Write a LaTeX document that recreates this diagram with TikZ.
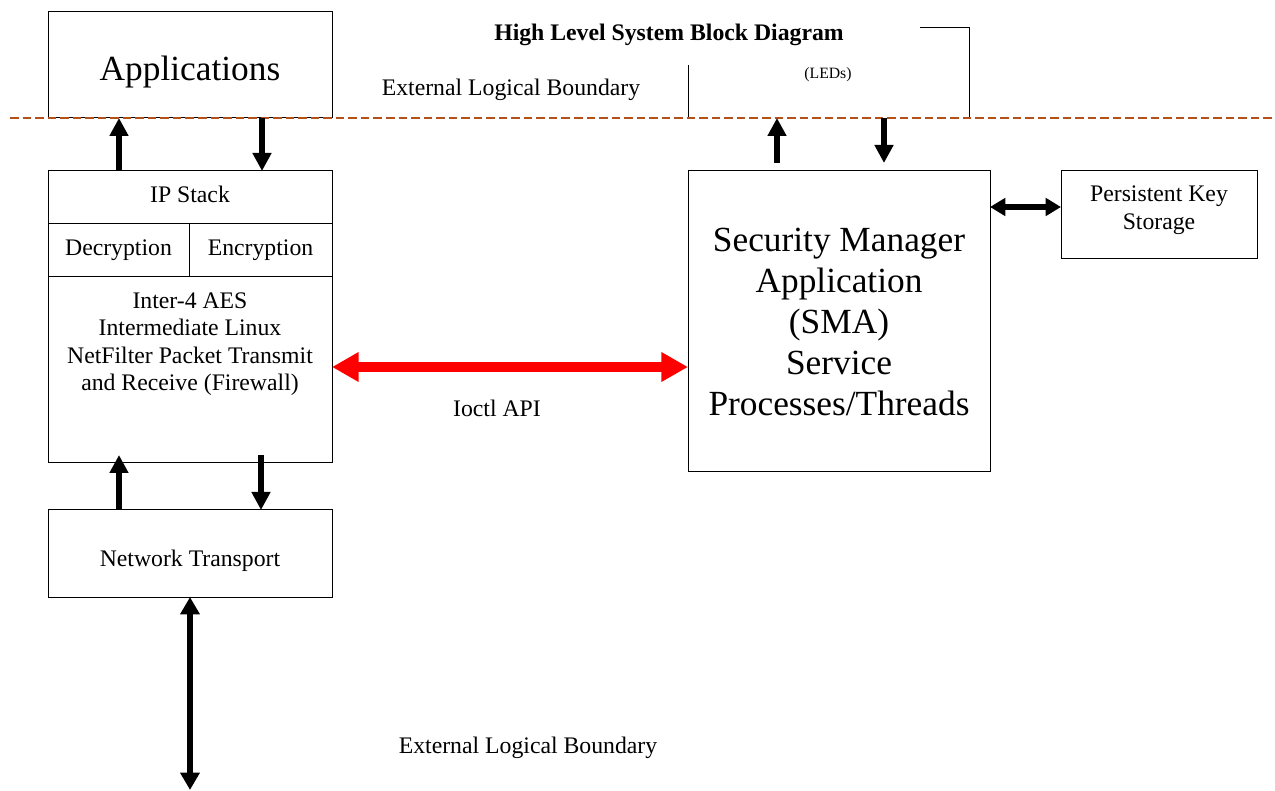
\documentclass[tikz,border=0pt]{standalone}
\usepackage{fontspec}
\setmainfont{Liberation Serif}
\usepackage{tikz}
\usetikzlibrary{arrows.meta}
\definecolor{boundary}{HTML}{B4501A}
\newcommand{\normtxt}{\fontsize{17.8}{20.6}\selectfont}
\newcommand{\bigtxt}{\fontsize{26.5}{30.75}\selectfont}
\newcommand{\smalltxt}{\fontsize{11.8}{14}\selectfont}

\begin{document}
\begin{tikzpicture}[x=0.75pt, y=-0.75pt,
  blk/.style={draw, line width=0.75pt, inner sep=0pt, outer sep=0pt, align=center},
  txt/.style={align=center, inner sep=0pt, font=\normtxt},
  fat/.style={line width=4.5pt, -{Triangle[length=13.5pt, width=13.5pt]}},
  fatboth/.style={line width=4.5pt, {Triangle[length=13pt, width=14pt]}-{Triangle[length=13pt, width=14pt]}},
  slim/.style={line width=4pt, {Triangle[length=11.5pt, width=13pt]}-{Triangle[length=11.5pt, width=13pt]}},
  api/.style={red, line width=8pt, {Triangle[length=20pt, width=21pt]}-{Triangle[length=20pt, width=21pt]}}]
\useasboundingbox (0,0) rectangle (1275,791);
% left column
\node[blk, minimum width=213pt, minimum height=79.5pt] (apps) at (190,65) {};
\node[txt, font=\bigtxt] (appstxt) at (190,72) {Applications};
\node[blk, minimum width=213pt, minimum height=39.75pt] (ipstack) at (190,197.5) {};
\node[txt] (iptxt) at (190,194) {IP Stack};
\node[blk, minimum width=105.75pt, minimum height=39.75pt, font=\normtxt] (decr) at (118.5,250.5) {Decryption};
\node[blk, minimum width=107.25pt, minimum height=39.75pt, font=\normtxt] (encr) at (260.5,250.5) {Encryption};
\node[blk, minimum width=213pt, minimum height=139.5pt] (filter) at (190,370) {};
\node[txt] (filtertxt) at (190,344) {Inter-4 AES\\Intermediate Linux\\NetFilter Packet Transmit\\and Receive (Firewall)};
\node[blk, minimum width=213pt, minimum height=65.25pt] (nettrans) at (190,553.5) {};
\node[txt] (nettxt) at (190,561) {Network Transport};
\coordinate (extbot) at (190,790);
% right column
\node[blk, minimum width=226.5pt, minimum height=225.75pt, font=\bigtxt] (sma) at (839,321.5) {Security Manager\\Application\\(SMA)\\Service\\Processes/Threads};
\node[blk, minimum width=147pt, minimum height=66pt] (pks) at (1159,215) {};
\node[txt] (pkstxt) at (1159,210) {Persistent Key\\Storage};
% LED box, partly hidden
\coordinate (ledsbl) at (688,118);
\draw[line width=0.75pt] (920,28) -- (969,28) -- (969,118);
\draw[line width=0.75pt] (688,65) -- (ledsbl);
\node[font=\smalltxt] (leds) at (828,75) {(LEDs)};
% boundary and labels
\draw[boundary, line width=2pt, dash pattern=on 6.4pt off 3pt] (10,118) -- (1275,118);
\node[font=\normtxt\bfseries] (title) at (669,35) {High Level System Block Diagram};
\node[font=\normtxt] (exttop) at (511,90) {External Logical Boundary};
\node[font=\normtxt] (extlow) at (528,748) {External Logical Boundary};
\node[font=\normtxt] (ioctl) at (497,408) {Ioctl API};
% arrows
\draw[fat] ([xshift=53.25pt]ipstack.north west) -- ([xshift=53.25pt]apps.south west);
\draw[fat] ([xshift=160.5pt]apps.south west) -- ([xshift=160.5pt]ipstack.north west);
\draw[fat] ([xshift=53.25pt]nettrans.north west) -- ([xshift=53.25pt, yshift=6pt]filter.south west);
\draw[fat] ([xshift=159.75pt, yshift=6pt]filter.south west) -- ([xshift=159.75pt]nettrans.north west);
\draw[fatboth] (nettrans.south) -- (extbot);
\draw[fat] ([xshift=66.75pt, yshift=6pt]sma.north west) -- ([xshift=66.75pt]ledsbl);
\draw[fat] ([xshift=147pt]ledsbl) -- ([xshift=147pt, yshift=6pt]sma.north west);
\draw[slim] (sma.east |- 0,207) -- (pks.west |- 0,207);
\draw[api] (filter.east |- 0,367) -- (sma.west |- 0,367);
\end{tikzpicture}
\end{document}
